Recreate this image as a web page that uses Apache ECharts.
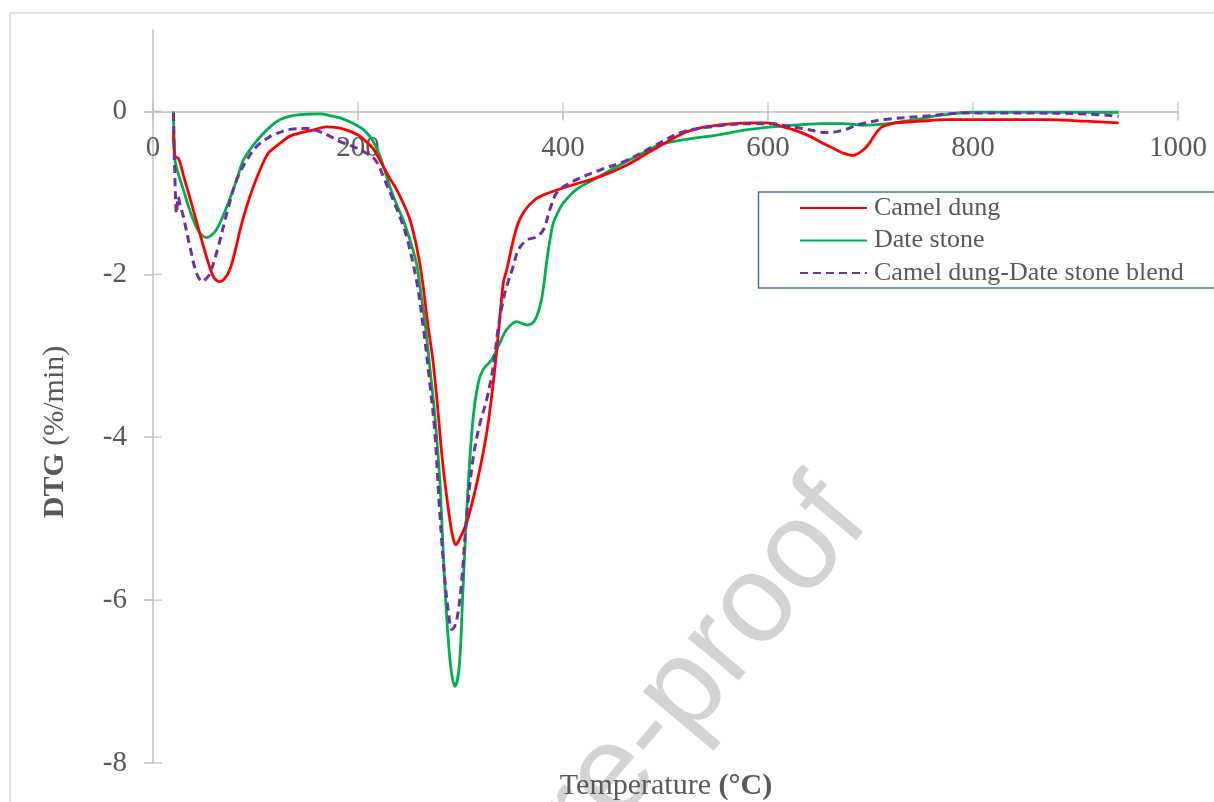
<!DOCTYPE html>
<html>
<head>
<meta charset="UTF-8">
<title>DTG curves</title>
<script src="https://cdn.jsdelivr.net/npm/echarts@6/dist/echarts.min.js"></script>
<style>
  html, body { margin: 0; padding: 0; background: #fff; }
  #main { width: 1214px; height: 802px; }
</style>
</head>
<body>
<div id="main"></div>
<script>
// axis ticks
var xTicks = [0, 200, 400, 600, 800, 1000];
var yTicks = [-8, -6, -4, -2, 0];
var seriesNames = ['Camel dung', 'Date stone', 'Camel dung-Date stone blend'];

// [temperature, DTG]
var camelDung = [[20,-0.23],[21.5,-0.55],[25,-0.58],[30,-0.8],[38,-1.15],[47.5,-1.58],[56,-1.94],[60,-2.05],[65,-2.09],[70,-2.05],
  [75,-1.94],[80,-1.72],[85,-1.45],[91,-1.18],[98,-0.92],[105,-0.7],[112.5,-0.51],[117,-0.46],[125,-0.38],[134,-0.3],
  [145,-0.26],[156,-0.23],[169,-0.19],[180,-0.2],[189,-0.23],[200,-0.29],[208,-0.37],[215,-0.46],[221.5,-0.6],[230,-0.8],
  [237.7,-0.96],[245,-1.15],[250.7,-1.33],[257,-1.65],[262,-2.0],[268,-2.6],[273,-3.05],[277,-3.54],[283,-4.36],[290,-5.05],
  [293,-5.25],[295.6,-5.32],[299,-5.25],[306,-5.05],[316,-4.56],[325.5,-3.95],[332,-3.33],[337,-2.72],[341.8,-2.1],[345,-1.95],
  [351.5,-1.58],[356,-1.38],[361,-1.25],[367,-1.15],[374,-1.07],[382,-1.02],[390.5,-0.98],[410,-0.9],[436,-0.8],[462,-0.66],
  [488,-0.47],[517,-0.27],[535,-0.2],[550,-0.17],[582,-0.14],[599,-0.14],[615,-0.19],[626,-0.23],[640,-0.3],[653.6,-0.39],
  [665,-0.46],[673,-0.51],[683,-0.54],[690,-0.5],[695,-0.45],[700,-0.37],[703,-0.31],[707,-0.24],[711,-0.19],[718,-0.16],
  [725,-0.14],[750,-0.12],[772,-0.1],[811.6,-0.1],[871,-0.1],[910,-0.12],[942,-0.14]];

var dateStone = [[20,0],[20.5,-0.3],[21.5,-0.6],[25,-0.78],[29.6,-0.96],[35,-1.18],[39.3,-1.33],[45,-1.48],[52.4,-1.55],[57,-1.52],
  [62,-1.45],[67,-1.32],[72,-1.17],[77,-1.0],[81.6,-0.84],[88,-0.6],[94.6,-0.47],[100,-0.38],[107.6,-0.27],[115,-0.18],
  [124,-0.1],[133,-0.06],[143.4,-0.04],[163,-0.03],[172,-0.05],[182.4,-0.08],[191,-0.12],[198.7,-0.17],[205,-0.22],[211.7,-0.31],
  [217,-0.42],[221.5,-0.55],[226,-0.72],[231,-0.92],[237,-1.12],[244,-1.33],[250,-1.55],[257,-1.86],[261,-2.2],[265,-2.56],
  [270,-3.13],[275,-3.74],[280,-4.56],[283,-5.38],[286.5,-6.2],[290.4,-6.81],[294.6,-7.06],[298.8,-6.81],[302,-5.99],[305,-5.17],
  [308.6,-4.36],[312.5,-3.74],[317.4,-3.33],[322,-3.17],[330.4,-3.05],[338.5,-2.84],[345,-2.68],[354.8,-2.58],[364.6,-2.62],[372.7,-2.56],
  [379,-2.31],[384,-1.85],[387,-1.6],[390.5,-1.37],[395,-1.24],[400,-1.13],[413,-0.96],[429.6,-0.84],[452.4,-0.68],[475,-0.53],
  [494.6,-0.41],[517,-0.35],[550,-0.29],[582,-0.22],[614,-0.18],[653.6,-0.15],[673,-0.15],[693,-0.17],[716.8,-0.15],[744,-0.1],
  [772,-0.04],[800,-0.01],[851,-0.01],[942,-0.01]];

var blend = [[20,-0.02],[20.5,-0.4],[21,-0.64],[23,-1.25],[24.7,-1.05],[26.5,-1.15],[29.6,-1.29],[36,-1.66],[42.6,-1.99],[48.5,-2.09],
  [52,-2.05],[55.6,-1.99],[63.7,-1.66],[72,-1.25],[81.6,-0.84],[91.4,-0.6],[101,-0.43],[109,-0.35],[117,-0.29],[133.7,-0.22],
  [150,-0.21],[163,-0.25],[172,-0.3],[182.4,-0.37],[198.7,-0.45],[215,-0.57],[220,-0.66],[224.7,-0.8],[234.4,-1.09],[241,-1.3],
  [247.5,-1.54],[257,-2.07],[263.7,-2.65],[270,-3.33],[275,-3.95],[280,-4.97],[285,-5.79],[288,-6.12],[291.4,-6.36],[294,-6.33],
  [297,-6.2],[301,-5.79],[306,-4.97],[312.5,-4.24],[319,-3.83],[325.5,-3.54],[332,-3.13],[337,-2.64],[341.8,-2.31],[345,-2.15],
  [351.5,-1.9],[356.4,-1.7],[364.6,-1.58],[374,-1.54],[381,-1.45],[387,-1.21],[393.8,-1.0],[403.6,-0.9],[419.8,-0.8],[436,-0.72],
  [462,-0.6],[488,-0.43],[517,-0.25],[550,-0.18],[582,-0.15],[606,-0.15],[615,-0.17],[634,-0.21],[657.6,-0.26],[673,-0.23],
  [689,-0.16],[712.8,-0.1],[752,-0.06],[791.8,-0.02],[851,-0.02],[910,-0.03],[942,-0.06]];

var serif = '"Liberation Serif", "Times New Roman", serif';
var grey = '#595959';
var axisGrey = '#bfbfbf';

// grid geometry: 30px top, 39px bottom -> the x axis sits where DTG = 0
var gridTop = 30, gridBottom = 39, chartH = 802;
var zeroOffset = -((chartH - gridBottom) - (gridTop + (chartH - gridTop - gridBottom) / 9));

var chart = echarts.init(document.getElementById('main'), null, { renderer: 'canvas' });

function lineSeries(name, data, color, dash, z) {
  return {
    name: name,
    type: 'line',
    data: data,
    symbol: 'none',
    smooth: 0.35,
    z: z,
    lineStyle: { color: color, width: dash ? 3 : 2.8, type: dash ? [8, 5] : 'solid' },
    itemStyle: { color: color }
  };
}

// inner half of the crossing tick marks (the axis draws the outer half)
function tickSeries(data, size, offset) {
  return {
    type: 'scatter', data: data, symbol: 'rect', symbolSize: size, symbolOffset: offset,
    clip: false, silent: true, z: 1,
    itemStyle: { color: axisGrey }
  };
}

var option = {
  animation: false,
  backgroundColor: '#fff',
  grid: { left: 153, right: 36, top: gridTop, bottom: gridBottom, containLabel: false, outerBoundsMode: 'none' },
  xAxis: {
    type: 'value', min: 0, max: 1000, interval: 200,
    position: 'bottom', offset: zeroOffset,
    axisLine: { show: true, onZero: false, lineStyle: { color: axisGrey, width: 1.5 } },
    axisTick: { show: true, length: 9, customValues: xTicks, lineStyle: { color: axisGrey, width: 1.5 } },
    axisLabel: { customValues: xTicks, margin: 22, fontFamily: serif, fontSize: 29, color: grey,
      formatter: function (v) { return String(v); } },
    splitLine: { show: false }
  },
  yAxis: {
    type: 'value', min: -8, max: 1, interval: 2, position: 'left',
    axisLine: { show: true, onZero: false, lineStyle: { color: axisGrey, width: 1.5 } },
    axisTick: { show: true, length: 9, customValues: yTicks, lineStyle: { color: axisGrey, width: 1.5 } },
    axisLabel: { customValues: yTicks, margin: 26, fontFamily: serif, fontSize: 29, color: grey },
    splitLine: { show: false }
  },
  legend: {
    orient: 'vertical', left: 799, top: 195, padding: 0,
    itemWidth: 67, itemHeight: 14, itemGap: 6.5,
    data: seriesNames,
    itemStyle: { color: 'rgba(0,0,0,0)', borderWidth: 0, opacity: 0 },
    textStyle: { fontFamily: serif, fontSize: 26, color: grey, lineHeight: 26, padding: [0, 0, 0, 2] }
  },
  graphic: [
    // outer chart border
    { type: 'rect', z: -10, shape: { x: 10, y: 13, width: 1400, height: 1000 },
      style: { fill: null, stroke: '#d9d9d9', lineWidth: 1.5 } },
    // watermark
    { type: 'text', z: -5, x: 845, y: 500, rotation: 50 * Math.PI / 180,
      style: { text: 'Journal Pre-proof', x: 0, y: 0, align: 'right', verticalAlign: 'middle',
        font: '125px "Liberation Sans", Arial, sans-serif', fill: '#d4d4d4' } },
    // legend box
    { type: 'rect', z: 5, shape: { x: 758.5, y: 192, width: 600, height: 96 },
      style: { fill: null, stroke: '#4472c4', lineWidth: 1.5 } },
    // axis titles
    { type: 'text', z: 10, x: 55, y: 432, rotation: Math.PI / 2,
      style: { text: '{b|DTG} (%/min)', align: 'center', verticalAlign: 'middle',
        font: '30px "Liberation Serif", serif', fill: grey,
        rich: { b: { fontWeight: 'bold', fontSize: 30, fontFamily: serif, fill: grey } } } },
    { type: 'text', z: 10, x: 666, y: 786,
      style: { text: 'Temperature {b|(°C)}', align: 'center', verticalAlign: 'middle',
        font: '30px "Liberation Serif", serif', fill: grey,
        rich: { b: { fontWeight: 'bold', fontSize: 30, fontFamily: serif, fill: grey } } } }
  ],
  series: [
    tickSeries(xTicks.map(function (t) { return [t, 0]; }), [1.5, 9], [0, -4.5]),
    tickSeries(yTicks.map(function (t) { return [0, t]; }), [9, 1.5], [4.5, 0]),
    lineSeries(seriesNames[0], camelDung, '#ff0000', false, 3),
    lineSeries(seriesNames[1], dateStone, '#00b050', false, 2),
    lineSeries(seriesNames[2], blend, '#7030a0', true, 4)
  ]
};
chart.setOption(option);
</script>
</body>
</html>
